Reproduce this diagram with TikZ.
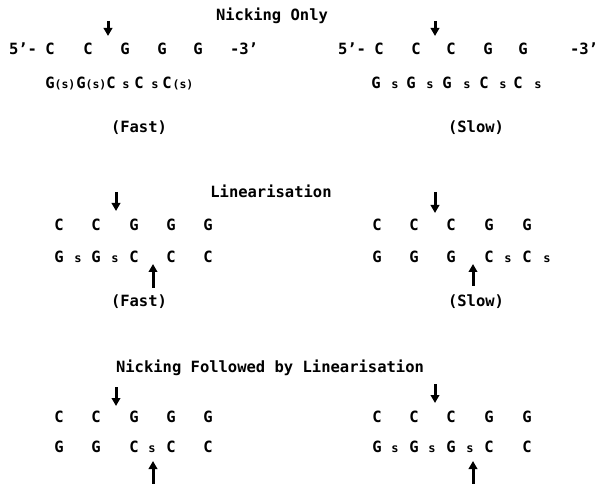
\documentclass[tikz,border=0pt]{standalone}
\usepackage{fontspec}
\setmainfont{DejaVu Sans Mono}
\usetikzlibrary{arrows.meta}

\tikzset{
  base/.style={anchor=base,inner sep=0pt,font=\fontsize{15.5}{18}\selectfont\bfseries},
  title/.style={anchor=base,inner sep=0pt,font=\fontsize{15.5}{18}\selectfont\bfseries},
  small/.style={anchor=base,inner sep=0pt,font=\fontsize{12}{14}\selectfont\bfseries},
  paren/.style={anchor=base,inner sep=0pt,font=\fontsize{11.5}{14}\selectfont\bfseries},
  nick/.style={line width=3pt,-{Triangle[width=8.5pt,length=8pt]}}
}

\begin{document}
\begin{tikzpicture}[x=1pt,y=-1pt]
          \useasboundingbox (0,0) rectangle (598,484);
          % nicking only
          \node[title] (title1) at (272,21) {Nicking Only};
          \node[base] (endL5) at (23,55) {5'-};
          \node[base] (endL3) at (244,55) {-3'};
          \foreach \x/\t [count=\i] in {50/C,88/C,125/G,162/G,198/G}
            \node[base] (nlt\i) at (\x,55) {\t};
          \foreach \x/\t [count=\i] in {50/G,81/G,111/C,139/C,167/C}
            \node[base] (nlb\i) at (\x,89) {\t};
          \foreach \x [count=\i] in {65,96,183}
            \node[paren] (nlp\i) at (\x,89) {(s)};
          \foreach \x [count=\i] in {126,155}
            \node[small] (nls\i) at (\x,89) {s};
          \node[title] (fast1) at (139,133) {(Fast)};

          \node[base] (endR5) at (352,55) {5'-};
          \node[base] (endR3) at (584,55) {-3'};
          \foreach \x/\t [count=\i] in {379/C,416/C,451/C,488/G,523/G}
            \node[base] (nrt\i) at (\x,55) {\t};
          \foreach \x/\t [count=\i] in {376/G,411/G,447/G,484/C,518/C}
            \node[base] (nrb\i) at (\x,89) {\t};
          \foreach \x [count=\i] in {395,430,467,503,538}
            \node[small] (nrs\i) at (\x,89) {s};
          \node[title] (slow1) at (476,133) {(Slow)};

          \coordinate (k1a) at (108,21);
          \coordinate (k1b) at (108,36);
          \coordinate (k2a) at (435,21);
          \coordinate (k2b) at (435,36);
          \draw[nick] (k1a) -- (k1b);
          \draw[nick] (k2a) -- (k2b);

          % linearisation
          \node[title] (title2) at (271,198) {Linearisation};
          \foreach \x/\t [count=\i] in {59/C,96/C,134/G,171/G,208/G}
            \node[base] (llt\i) at (\x,231) {\t};
          \foreach \x/\t [count=\i] in {59/G,96/G,134/C,171/C,208/C}
            \node[base] (llb\i) at (\x,263) {\t};
          \foreach \x [count=\i] in {78,115}
            \node[small] (lls\i) at (\x,263) {s};
          \node[title] (fast2) at (139,306) {(Fast)};

          \foreach \x/\t [count=\i] in {377/C,414/C,451/C,489/G,527/G}
            \node[base] (lrt\i) at (\x,231) {\t};
          \foreach \x/\t [count=\i] in {377/G,414/G,451/G,489/C,527/C}
            \node[base] (lrb\i) at (\x,263) {\t};
          \foreach \x [count=\i] in {508,547}
            \node[small] (lrs\i) at (\x,263) {s};
          \node[title] (slow2) at (476,306) {(Slow)};

          \coordinate (k3a) at (116,192);
          \coordinate (k3b) at (116,211);
          \coordinate (k4a) at (435,192);
          \coordinate (k4b) at (435,213);
          \coordinate (k5a) at (153,288);
          \coordinate (k5b) at (153,264);
          \coordinate (k6a) at (473,286);
          \coordinate (k6b) at (473,264);
          \draw[nick] (k3a) -- (k3b);
          \draw[nick] (k4a) -- (k4b);
          \draw[nick] (k5a) -- (k5b);
          \draw[nick] (k6a) -- (k6b);

          % nicking followed by linearisation
          \node[title] (title3) at (270,372) {Nicking Followed by Linearisation};
          \foreach \x/\t [count=\i] in {59/C,96/C,134/G,171/G,208/G}
            \node[base] (flt\i) at (\x,422) {\t};
          \foreach \x/\t [count=\i] in {59/G,96/G,134/C,171/C,208/C}
            \node[base] (flb\i) at (\x,452) {\t};
          \node[small] (fls1) at (152,452) {s};

          \foreach \x/\t [count=\i] in {377/C,414/C,451/C,489/G,527/G}
            \node[base] (frt\i) at (\x,422) {\t};
          \foreach \x/\t [count=\i] in {377/G,414/G,451/G,489/C,527/C}
            \node[base] (frb\i) at (\x,452) {\t};
          \foreach \x [count=\i] in {395,432,470}
            \node[small] (frs\i) at (\x,452) {s};

          \coordinate (k7a) at (116,387);
          \coordinate (k7b) at (116,406);
          \coordinate (k8a) at (435,384);
          \coordinate (k8b) at (435,403);
          \coordinate (k9a) at (153,484);
          \coordinate (k9b) at (153,461);
          \coordinate (k10a) at (473,484);
          \coordinate (k10b) at (473,461);
          \draw[nick] (k7a) -- (k7b);
          \draw[nick] (k8a) -- (k8b);
          \draw[nick] (k9a) -- (k9b);
          \draw[nick] (k10a) -- (k10b);
\end{tikzpicture}
\end{document}
